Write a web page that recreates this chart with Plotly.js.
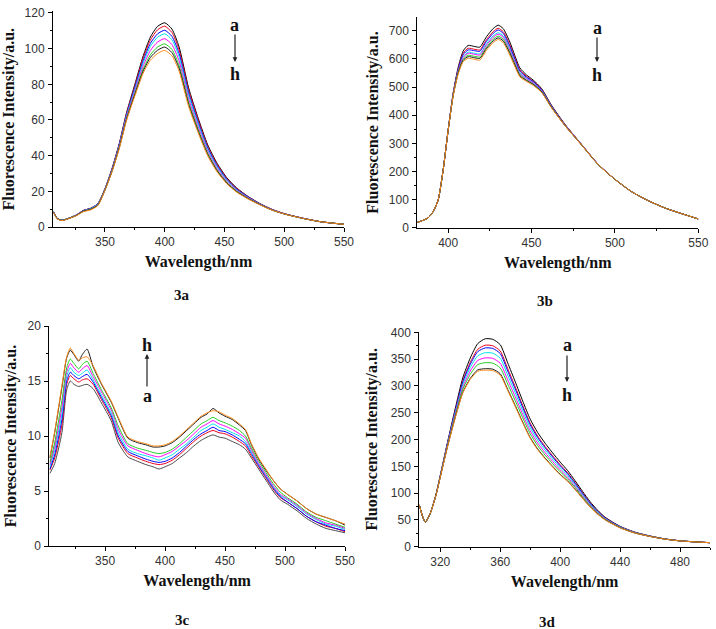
<!DOCTYPE html>
<html>
<head>
<meta charset="utf-8">
<script src="https://cdn.plot.ly/plotly-3.0.1.min.js"></script>
<style>html,body{margin:0;padding:0;background:#fff}#chart{width:716px;height:629px}</style>
</head>
<body>
<div id="chart"></div>
<script>
// ---------- shared ----------
const curveNames = ['a','b','c','d','e','f','g','h'];
const curveColors = ['#000000','#e8001c','#0000ff','#00e0e8','#ff00ff','#22cc22','#1a1a1a','#ff8c1a'];
const panelLabels = ['3a','3b','3c','3d'];
const xTitle = 'Wavelength/nm';
const yTitle = 'Fluorescence Intensity/a.u.';

// ---------- 3a ----------
const wl3a = [307,310,314,320,326,332,338,344,350,356,362,368,375,382,388,394,400,406,412,420,428,436,444,452,460,470,480,490,500,515,530,550];
const fa_a = [8.5,4.8,3.8,5.0,6.7,9.3,10.5,13.0,21.5,33.0,47.0,64.0,80.0,96.0,106.5,112.5,114.5,111.0,101.0,78.0,61.0,46.0,35.5,27.6,22.0,17.0,13.0,9.8,7.5,5.0,3.0,1.5];
const fa_b = [8.5,4.8,3.8,5.0,6.7,9.3,10.5,13.0,21.4,32.8,46.6,63.5,79.2,94.8,104.9,110.6,112.6,109.1,99.3,76.7,60.0,45.2,34.9,27.2,21.7,16.9,12.9,9.8,7.5,5.0,3.0,1.5];
const fa_c = [8.5,4.8,3.8,5.0,6.7,9.2,10.4,12.9,21.3,32.5,46.2,62.8,78.2,93.3,103.0,108.3,110.3,106.9,97.3,75.1,58.7,44.3,34.2,26.7,21.3,16.7,12.8,9.7,7.4,5.0,3.0,1.5];
const fa_d = [8.6,4.9,3.9,5.0,6.6,9.1,10.3,12.8,21.2,32.3,45.9,62.3,77.4,92.1,101.3,106.4,108.3,105.0,95.5,73.8,57.7,43.5,33.6,26.2,21.0,16.5,12.7,9.6,7.4,5.0,3.0,1.5];
const fa_e = [8.4,4.8,3.8,4.9,6.6,9.0,10.1,12.6,21.0,32.0,45.4,61.5,76.2,90.4,99.0,103.7,105.6,102.3,93.1,71.9,56.2,42.4,32.7,25.6,20.6,16.3,12.6,9.6,7.4,5.0,3.0,1.5];
const fa_f = [8.3,4.7,3.7,4.9,6.5,8.9,10.0,12.4,20.8,31.6,44.8,60.7,75.0,88.6,96.6,100.9,102.7,99.6,90.6,70.0,54.7,41.3,31.8,25.0,20.2,16.0,12.5,9.5,7.3,4.9,3.0,1.5];
const fa_g = [8.3,4.7,3.7,4.8,6.4,8.8,9.8,12.2,20.7,31.4,44.5,60.2,74.3,87.5,95.1,99.1,100.9,97.8,89.0,68.7,53.7,40.5,31.3,24.6,19.9,15.8,12.4,9.4,7.3,4.9,3.0,1.5];
const fa_h = [8.2,4.6,3.6,4.8,6.3,8.6,9.6,12.0,20.6,31.2,44.1,59.7,73.5,86.3,93.5,97.3,99.0,96.0,87.4,67.5,52.8,39.8,30.7,24.2,19.6,15.6,12.3,9.4,7.3,4.9,3.0,1.5];

// ---------- 3b ----------
const wl3b = [381,384,388,391,394,397,400,403,406,409,412,416,419,423,427,430,433,437,440,443,447,451,456,462,470,480,490,500,510,520,530,540,550];
const fb_a = [18,24,35,57,98,205,347,478,570,628,648,644,642,679,708,720,708,660,612,568,543,525,495,435,368,296,225,172,128,96,70,50,31];
const fb_b = [18,24,35,57,98,205,347,476,565,620,638,634,632,669,697,709,697,650,604,561,538,521,492,433,367,296,225,172,128,96,70,50,31];
const fb_c = [18,24,35,57,98,205,347,475,562,615,632,629,627,663,691,703,691,644,599,557,535,519,490,432,366,295,225,172,128,96,70,50,31];
const fb_d = [18,24,35,57,98,205,346,473,557,608,624,620,618,654,682,693,682,636,592,551,531,515,488,430,365,295,225,172,128,96,70,50,31];
const fb_e = [18,24,35,57,98,205,346,472,555,605,620,616,614,649,677,688,677,631,588,548,529,514,486,429,365,295,225,172,128,96,70,50,31];
const fb_f = [18,24,35,57,98,205,346,470,552,599,613,609,607,642,670,681,670,624,582,544,525,511,484,428,364,294,224,172,128,96,70,50,31];
const fb_g = [18,24,35,57,98,205,346,469,549,595,608,604,602,637,664,675,664,619,578,540,523,509,483,427,363,294,224,172,128,96,70,50,31];
const fb_h = [18,24,35,57,98,205,346,468,546,590,602,598,596,631,658,669,658,613,573,536,520,506,481,426,363,294,224,172,128,96,70,50,31];

// ---------- 3c ----------
const wl3c = [304,308,314,318,321,324,328,331,335,340,347,355,361,369,377,384,390,395,400,406,412,418,424,430,435,440,445,450,456,462,467,472,478,484,490,496,502,510,518,526,534,542,550];
const fc_a = [6.6,7.5,10.3,14.2,15.0,14.7,14.5,14.6,14.7,14.3,13.0,11.4,9.4,8.1,7.7,7.4,7.2,7.0,7.2,7.5,8.0,8.5,9.1,9.6,9.9,10.1,9.9,9.8,9.5,9.2,8.8,8.0,7.0,6.0,5.0,4.2,3.8,3.2,2.5,2.0,1.6,1.4,1.2];
const fc_b = [6.9,8.0,11.0,14.7,15.5,15.2,14.9,15.1,15.2,14.7,13.3,11.7,9.8,8.4,8.0,7.7,7.5,7.4,7.5,7.8,8.3,8.9,9.5,10.0,10.3,10.5,10.3,10.2,9.9,9.5,9.1,8.2,7.2,6.2,5.2,4.4,4.0,3.4,2.7,2.2,1.8,1.6,1.3];
const fc_c = [7.0,8.3,11.5,15.0,15.8,15.5,15.2,15.4,15.6,14.9,13.5,11.9,10.0,8.6,8.2,7.9,7.7,7.6,7.7,8.0,8.5,9.1,9.7,10.2,10.5,10.8,10.5,10.4,10.1,9.7,9.3,8.4,7.3,6.3,5.3,4.5,4.0,3.4,2.7,2.2,1.9,1.6,1.4];
const fc_d = [7.2,8.7,12.0,15.4,16.2,15.8,15.5,15.7,16.0,15.1,13.7,12.1,10.3,8.8,8.4,8.2,8.0,7.8,8.0,8.3,8.8,9.3,9.9,10.5,10.8,11.1,10.8,10.6,10.3,10.0,9.5,8.5,7.4,6.4,5.4,4.6,4.2,3.6,2.9,2.4,2.0,1.8,1.5];
const fc_e = [7.4,9.0,12.6,15.8,16.6,16.2,15.8,16.1,16.4,15.4,14.0,12.4,10.6,9.1,8.7,8.4,8.2,8.1,8.3,8.6,9.1,9.6,10.2,10.8,11.1,11.4,11.1,10.9,10.6,10.2,9.8,8.7,7.5,6.5,5.5,4.7,4.3,3.7,3.0,2.5,2.1,1.9,1.6];
const fc_f = [7.6,9.4,13.2,16.2,17.0,16.6,16.1,16.5,16.8,15.7,14.2,12.6,10.9,9.3,8.9,8.7,8.5,8.4,8.5,8.8,9.3,9.9,10.5,11.1,11.4,11.7,11.4,11.2,10.9,10.5,10.0,8.9,7.7,6.7,5.7,4.9,4.4,3.8,3.1,2.6,2.3,2.0,1.7];
const fc_g = [8.0,10.3,14.4,17.1,17.8,17.4,16.8,17.4,17.9,16.3,14.7,13.1,11.6,9.8,9.4,9.2,9.0,9.0,9.1,9.4,9.9,10.5,11.1,11.7,12.0,12.5,12.1,11.8,11.5,11.0,10.5,9.2,7.9,6.9,6.0,5.2,4.7,4.1,3.4,2.9,2.6,2.3,1.9];
const fc_h = [8.1,10.4,14.6,17.2,18.0,17.5,16.9,17.1,17.2,16.4,14.8,13.2,11.7,9.9,9.5,9.3,9.1,9.1,9.2,9.5,10.0,10.6,11.2,11.8,12.1,12.3,12.2,11.9,11.6,11.1,10.6,9.3,8.0,7.0,6.0,5.2,4.7,4.1,3.4,2.9,2.6,2.3,2.0];

// ---------- 3d ----------
const wl3d = [306,308,310,313,317,321,325,330,335,340,345,350,355,360,365,370,375,380,385,390,395,400,405,410,415,420,425,430,440,450,460,470,480,490,500];
const fd_a = [78,58,46,60,96,146,197,258,315,352,379,388,387,377,343,308,272,238,213,193,175,158,142,123,103,84,68,55,38,27,20,14.5,11,9,7.5];
const fd_b = [78,58,46,60,95.7,145.1,195.2,254.4,309.1,343.8,368.4,376.0,375.0,365.3,332.4,298.5,263.6,230.6,206.4,187.0,169.6,153.1,137.8,119.6,100.3,82.0,66.5,54.0,37.4,26.7,19.8,14.4,11.0,9,7.5];
const fd_c = [78,58,46,60,95.6,144.7,194.4,252.9,306.7,340.4,364.0,370.9,370.0,360.4,327.9,294.4,260.0,227.5,203.6,184.5,167.3,151.0,136.1,118.1,99.1,81.1,65.9,53.5,37.2,26.5,19.7,14.4,10.95,9,7.5];
const fd_d = [78,58,46,60,95.4,144.0,193.0,250.2,302.3,334.3,356.1,362.0,361.1,351.7,320.0,287.4,253.8,222.1,198.7,180.1,163.3,147.4,133.0,115.6,97.1,79.6,64.8,52.8,36.8,26.3,19.6,14.3,10.9,9,7.5];
const fd_e = [78,58,46,60,95.1,143.3,191.6,247.3,297.6,327.7,347.6,352.3,351.4,342.3,311.4,279.7,247.0,216.1,193.4,175.2,158.9,143.5,129.6,112.8,94.9,77.9,63.6,52.0,36.3,26.0,19.4,14.2,10.9,9,7.5];
const fd_f = [78,58,46,60,94.9,142.6,190.2,244.6,293.3,321.6,339.8,343.4,342.5,333.6,303.6,272.6,240.7,210.6,188.5,170.8,154.9,139.8,126.5,110.3,92.9,76.4,62.5,51.2,35.9,25.8,19.3,14.2,10.9,9,7.5];
const fd_g = [78,58,46,60,94.6,141.8,188.5,241.3,287.8,314.0,329.9,332.1,331.3,322.7,293.6,263.6,232.8,203.7,182.3,165.2,149.8,135.2,122.6,107.1,90.4,74.4,61.1,50.3,35.3,25.4,19.1,14.1,10.8,9,7.5];
const fd_h = [78,58,46,60,94.6,141.6,188.1,240.5,286.5,312.1,327.5,329.4,328.6,320.1,291.2,261.5,230.9,202.1,180.8,163.9,148.6,134.1,121.6,106.3,89.8,73.9,60.8,50.0,35.1,25.4,19.1,14.1,10.8,9,7.5];

// ---------- build ----------
const panels = [
  {wl: wl3a, ys: [fa_a,fa_b,fa_c,fa_d,fa_e,fa_f,fa_g,fa_h], xa: 'x',  ya: 'y'},
  {wl: wl3b, ys: [fb_a,fb_b,fb_c,fb_d,fb_e,fb_f,fb_g,fb_h], xa: 'x2', ya: 'y2'},
  {wl: wl3c, ys: [fc_a,fc_b,fc_c,fc_d,fc_e,fc_f,fc_g,fc_h], xa: 'x3', ya: 'y3'},
  {wl: wl3d, ys: [fd_a,fd_b,fd_c,fd_d,fd_e,fd_f,fd_g,fd_h], xa: 'x4', ya: 'y4'}
];
const traces = [];
panels.forEach((p, pi) => {
  p.ys.forEach((y, i) => {
    traces.push({
      type: 'scatter', mode: 'lines', x: p.wl, y: y, xaxis: p.xa, yaxis: p.ya,
      name: panelLabels[pi] + ' ' + curveNames[i],
      line: {color: (pi === 2 && i === 0) ? '#4a4a4a' : curveColors[i], width: 1, shape: 'spline', smoothing: 0.6},
      hoverinfo: 'skip'
    });
  });
});

const W = 716, H = 629;
const tickFont = {family: 'Liberation Sans, Arial, sans-serif', size: 12, color: '#333'};
const titleFont = {family: 'Liberation Serif, Times New Roman, serif', size: 16, color: '#111'};
function xAxis(px0, px1, range, dtick, minorDtick, anchor) {
  return {
    domain: [px0 / W, px1 / W], range: range, anchor: anchor,
    showline: true, linecolor: '#000', linewidth: 1, mirror: false,
    ticks: 'outside', ticklen: 4, tickcolor: '#000', tick0: 0, dtick: dtick,
    minor: {ticks: 'outside', ticklen: 2, tickcolor: '#000', dtick: minorDtick, showgrid: false},
    showgrid: false, zeroline: false, tickfont: tickFont,
    title: {text: '<b>' + xTitle + '</b>', font: titleFont, standoff: 7}
  };
}
function yAxis(py0, py1, range, dtick, minorDtick, anchor, standoff) {
  return {
    domain: [1 - py1 / H, 1 - py0 / H], range: range, anchor: anchor,
    showline: true, linecolor: '#000', linewidth: 1, mirror: false,
    ticks: 'outside', ticklen: 4, tickcolor: '#000', tick0: 0, dtick: dtick,
    minor: {ticks: 'outside', ticklen: 2, tickcolor: '#000', dtick: minorDtick, showgrid: false},
    showgrid: false, zeroline: false, tickfont: tickFont, ticklabelstandoff: 1,
    title: {text: '<b>' + yTitle + '</b>', font: titleFont, standoff: standoff}
  };
}

const labelFont = {family: 'Liberation Serif, Times New Roman, serif', size: 15, color: '#111'};
const letterFont = {family: 'Liberation Serif, Times New Roman, serif', size: 18, color: '#111'};
function txt(text, px, py, font) {
  return {xref: 'paper', yref: 'paper', x: px / W, y: 1 - py / H, text: text, showarrow: false,
          font: font, xanchor: 'center', yanchor: 'middle'};
}
function arrow(px, pyHead, pyTail) {
  return {xref: 'paper', yref: 'paper', x: px / W, y: 1 - pyHead / H, ax: 0, ay: pyTail - pyHead,
          axref: 'pixel', ayref: 'pixel', text: '', showarrow: true, arrowhead: 2, arrowsize: 0.8,
          arrowwidth: 1.2, arrowcolor: '#222'};
}

const layout = {
  width: W, height: H, margin: {l: 0, r: 0, t: 0, b: 0},
  paper_bgcolor: '#fff', plot_bgcolor: '#fff', showlegend: false,
  xaxis:  xAxis(53, 344, [306.5, 550], 50, 25, 'y'),
  yaxis:  yAxis(11.2, 227, [0, 121], 20, 10, 'x', 5),
  xaxis2: xAxis(417.3, 698.3, [381.5, 550], 50, 25, 'y2'),
  yaxis2: yAxis(17.3, 227.7, [0, 748], 100, 50, 'x2', 6),
  xaxis3: xAxis(49.3, 345, [303.5, 550], 50, 25, 'y3'),
  yaxis3: yAxis(326, 546, [0, 20], 5, 2.5, 'x3', 6),
  xaxis4: xAxis(419.3, 710, [306, 500], 40, 20, 'y4'),
  yaxis4: yAxis(331.8, 546.7, [0, 401], 50, 25, 'x4', 9),
  annotations: [
    txt('<b>3a</b>', 182, 295, labelFont),
    txt('<b>3b</b>', 545, 301, labelFont),
    txt('<b>3c</b>', 182, 620, labelFont),
    txt('<b>3d</b>', 547, 622, labelFont),
    // 3a: a -> h
    txt('<b>a</b>', 235, 25, letterFont), arrow(235, 62, 33), txt('<b>h</b>', 235, 74, letterFont),
    // 3b: a -> h
    txt('<b>a</b>', 597, 28, letterFont), arrow(597, 62, 36), txt('<b>h</b>', 597, 75, letterFont),
    // 3c: a -> h (upward)
    txt('<b>h</b>', 147, 345, letterFont), arrow(147, 354, 388), txt('<b>a</b>', 147, 396, letterFont),
    // 3d: a -> h
    txt('<b>a</b>', 567, 345, letterFont), arrow(567, 382, 354), txt('<b>h</b>', 567, 395, letterFont)
  ]
};

Plotly.newPlot('chart', traces, layout, {displayModeBar: false, staticPlot: true});
</script>
</body>
</html>
